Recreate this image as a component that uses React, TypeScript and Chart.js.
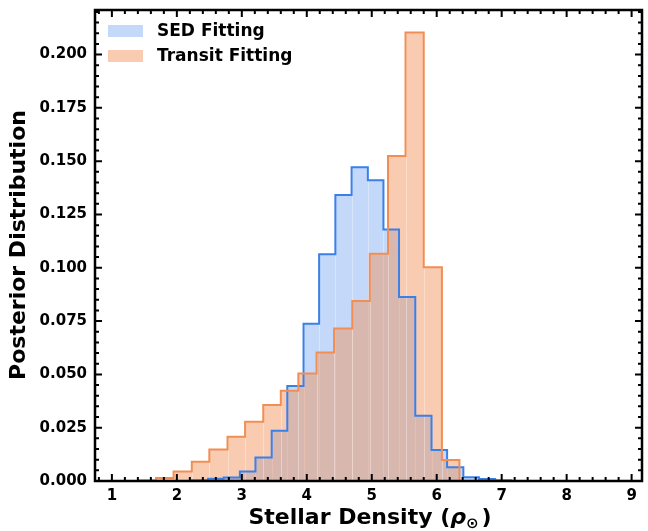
import React, { useEffect, useRef } from "react";
import { Chart, registerables } from "chart.js";

Chart.register(...registerables);

// ---- data ----
const seriesLabels = ["SED Fitting", "Transit Fitting"];

const sedEdges = [
  2.23, 2.48, 2.72, 2.97, 3.21, 3.46, 3.70, 3.95, 4.19, 4.44, 4.69,
  4.94, 5.18, 5.42, 5.67, 5.92, 6.16, 6.41, 6.65, 6.90, 7.15,
];
const sedHeights = [
  0.0003, 0.001, 0.0017, 0.0044, 0.011, 0.0236, 0.0446, 0.0737, 0.1063, 0.1341,
  0.1472, 0.1411, 0.118, 0.0863, 0.0306, 0.0145, 0.0064, 0.0018, 0.0009, 0.0004,
];

const transitEdges = [
  1.40, 1.68, 1.95, 2.23, 2.50, 2.78, 3.05, 3.33, 3.60, 3.87,
  4.15, 4.42, 4.70, 4.97, 5.25, 5.52, 5.80, 6.08, 6.35,
];
const transitHeights = [
  0.0004, 0.0014, 0.0045, 0.009, 0.0148, 0.0207, 0.0278, 0.0356, 0.0423,
  0.0504, 0.0603, 0.0715, 0.0844, 0.1066, 0.1524, 0.2104, 0.1002, 0.0098,
];

const xTickValues = [1, 2, 3, 4, 5, 6, 7, 8, 9];
const yTickValues = [0, 0.025, 0.05, 0.075, 0.1, 0.125, 0.15, 0.175, 0.2];

const xLimits = [0.74, 9.16];
const yLimits = [0, 0.2209];
const xMinorStep = 0.2;
const yMinorStep = 0.005;

const xTitleParts = ["Stellar Density (", "ρ", "⊙", ")"];
const yTitle = "Posterior Distribution";

// ---- styles ----
const FONT = "'DejaVu Sans', 'Liberation Sans', sans-serif";
const BLUE = "rgb(58,128,235)";
const BLUE_FILL = "rgba(58,128,235,0.3)";
const ORANGE = "rgb(242,142,84)";
const ORANGE_FILL = "rgba(242,142,84,0.45)";

function stepPoints(edges: number[], heights: number[]) {
  const pts: { x: number; y: number }[] = [{ x: edges[0], y: 0 }];
  heights.forEach((h, i) => pts.push({ x: edges[i], y: h }));
  pts.push({ x: edges[edges.length - 1], y: heights[heights.length - 1] });
  pts.push({ x: edges[edges.length - 1], y: 0 });
  return pts;
}

const binLines: Record<number, { edges: number[]; heights: number[] }> = {
  0: { edges: sedEdges, heights: sedHeights },
  1: { edges: transitEdges, heights: transitHeights },
};

const decorPlugin = {
  id: "decor",
  afterDatasetDraw(chart: any, args: any) {
    const info = binLines[args.index];
    if (!info) return;
    const { ctx, scales, chartArea } = chart;
    const x = scales.x, y = scales.y;
    ctx.save();
    ctx.beginPath();
    ctx.rect(chartArea.left, chartArea.top, chartArea.right - chartArea.left, chartArea.bottom - chartArea.top);
    ctx.clip();
    ctx.strokeStyle = "rgba(255,255,255,0.35)";
    ctx.lineWidth = 1;
    for (let i = 1; i < info.heights.length; i++) {
      const px = Math.round(x.getPixelForValue(info.edges[i])) + 0.5;
      ctx.beginPath();
      ctx.moveTo(px, y.getPixelForValue(0));
      ctx.lineTo(px, y.getPixelForValue(info.heights[i]) + 1);
      ctx.stroke();
    }
    ctx.restore();
  },
  afterDraw(chart: any) {
    const { ctx, scales, chartArea } = chart;
    const xs = scales.x, ys = scales.y;
    const { left, right, top, bottom } = chartArea;
    ctx.save();
    ctx.strokeStyle = "#000";
    ctx.lineCap = "butt";
    // ticks
    ctx.lineWidth = 2;
    const drawX = (v: number, len: number) => {
      const px = xs.getPixelForValue(v);
      ctx.beginPath();
      ctx.moveTo(px, bottom);
      ctx.lineTo(px, bottom - len);
      ctx.moveTo(px, top);
      ctx.lineTo(px, top + len);
      ctx.stroke();
    };
    const drawY = (v: number, len: number) => {
      const py = ys.getPixelForValue(v);
      ctx.beginPath();
      ctx.moveTo(left, py);
      ctx.lineTo(left + len, py);
      ctx.moveTo(right, py);
      ctx.lineTo(right - len, py);
      ctx.stroke();
    };
    for (let k = Math.ceil(xLimits[0] / xMinorStep); k * xMinorStep <= xLimits[1]; k++) {
      const v = k * xMinorStep;
      if (Math.abs(v - Math.round(v)) < 1e-6) continue;
      drawX(v, 4);
    }
    xTickValues.forEach((v) => drawX(v, 7));
    for (let k = 1; k * yMinorStep <= yLimits[1]; k++) {
      const v = k * yMinorStep;
      if (k % 5 === 0) continue;
      drawY(v, 4);
    }
    yTickValues.forEach((v) => drawY(v, 7));
    // frame
    ctx.lineWidth = 2.5;
    ctx.strokeRect(left, top, right - left, bottom - top);

    // legend
    const legendItems = [
      { label: seriesLabels[0], color: BLUE_FILL },
      { label: seriesLabels[1], color: ORANGE_FILL },
    ];
    ctx.font = `bold 17px ${FONT}`;
    ctx.textBaseline = "middle";
    ctx.textAlign = "left";
    legendItems.forEach((it, i) => {
      const yy = 31 + i * 25;
      ctx.fillStyle = it.color;
      ctx.fillRect(108, yy - 6, 35, 12);
      ctx.fillStyle = "#000";
      ctx.fillText(it.label, 157, yy + 1);
    });

    // y title
    ctx.save();
    ctx.translate(19, 245);
    ctx.rotate(-Math.PI / 2);
    ctx.font = `bold 22px ${FONT}`;
    ctx.textAlign = "center";
    ctx.textBaseline = "middle";
    ctx.fillStyle = "#000";
    ctx.fillText(yTitle, 0, 0);
    ctx.restore();

    // x title with math parts
    const fMain = `bold 22px ${FONT}`;
    const fItal = `italic bold 22px ${FONT}`;
    const fSub = `bold 15px ${FONT}`;
    const parts = [
      { t: xTitleParts[0], f: fMain, dy: 0 },
      { t: xTitleParts[1], f: fItal, dy: 0 },
      { t: xTitleParts[2], f: fSub, dy: 4 },
      { t: xTitleParts[3], f: fMain, dy: 0 },
    ];
    let total = 0;
    parts.forEach((p) => {
      ctx.font = p.f;
      total += ctx.measureText(p.t).width + (p.t === xTitleParts[2] ? 3 : 0);
    });
    let cx = 370 - total / 2;
    const base = 524;
    ctx.textAlign = "left";
    ctx.textBaseline = "alphabetic";
    ctx.fillStyle = "#000";
    parts.forEach((p) => {
      ctx.font = p.f;
      ctx.fillText(p.t, cx, base + p.dy);
      cx += ctx.measureText(p.t).width + (p.t === xTitleParts[2] ? 3 : 0);
    });
    ctx.restore();
  },
};

export default function App() {
  const ref = useRef<HTMLCanvasElement | null>(null);
  useEffect(() => {
    if (!ref.current) return;
    const chart = new Chart(ref.current, {
      type: "line",
      data: {
        datasets: [
          {
            label: seriesLabels[0] + " fill",
            data: stepPoints(sedEdges, sedHeights),
            stepped: "before",
            borderWidth: 0,
            borderColor: "rgba(0,0,0,0)",
            backgroundColor: BLUE_FILL,
            fill: "origin",
            pointRadius: 0,
            order: 4,
          },
          {
            label: seriesLabels[1] + " fill",
            data: stepPoints(transitEdges, transitHeights),
            stepped: "before",
            borderWidth: 0,
            borderColor: "rgba(0,0,0,0)",
            backgroundColor: ORANGE_FILL,
            fill: "origin",
            pointRadius: 0,
            order: 3,
          },
          {
            label: seriesLabels[0],
            data: stepPoints(sedEdges, sedHeights),
            stepped: "before",
            borderWidth: 2,
            borderColor: BLUE,
            fill: false,
            pointRadius: 0,
            order: 2,
          },
          {
            label: seriesLabels[1],
            data: stepPoints(transitEdges, transitHeights),
            stepped: "before",
            borderWidth: 2,
            borderColor: ORANGE,
            fill: false,
            pointRadius: 0,
            order: 1,
          },
        ],
      },
      options: {
        responsive: false,
        animation: false,
        devicePixelRatio: 1,
        layout: { padding: { top: 10, right: 6, left: 0, bottom: 0 } },
        plugins: { legend: { display: false }, tooltip: { enabled: false } },
        scales: {
          x: {
            type: "linear",
            min: xLimits[0],
            max: xLimits[1],
            grid: { display: false, drawTicks: false },
            border: { display: false },
            afterBuildTicks: (s: any) => {
              s.ticks = xTickValues.map((v) => ({ value: v }));
            },
            afterFit: (s: any) => {
              s.height = 50;
              s.paddingLeft = 0;
              s.paddingRight = 0;
            },
            ticks: {
              color: "#000",
              padding: 6,
              maxRotation: 0,
              font: { family: FONT, size: 15, weight: "bold" },
              callback: (v: any) => String(v),
            },
          },
          y: {
            type: "linear",
            min: yLimits[0],
            max: yLimits[1],
            grid: { display: false, drawTicks: false },
            border: { display: false },
            afterBuildTicks: (s: any) => {
              s.ticks = yTickValues.map((v) => ({ value: v }));
            },
            afterFit: (s: any) => {
              s.width = 95;
              s.paddingTop = 0;
              s.paddingBottom = 0;
            },
            ticks: {
              color: "#000",
              padding: 8,
              font: { family: FONT, size: 15, weight: "bold" },
              callback: (v: any) => Number(v).toFixed(3),
            },
          },
        },
      },
      plugins: [decorPlugin],
    });
    return () => chart.destroy();
  }, []);
  return (
    <div style={{ position: "absolute", left: 0, top: 0, width: 648, height: 531, background: "#fff" }}>
      <canvas ref={ref} width={648} height={531} style={{ width: 648, height: 531, display: "block" }} />
    </div>
  );
}
